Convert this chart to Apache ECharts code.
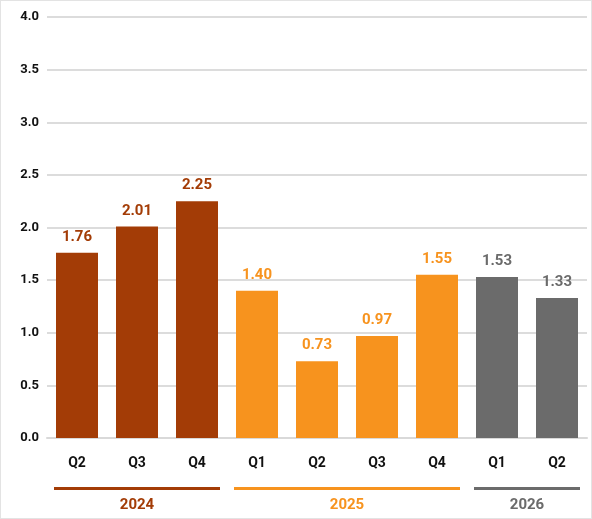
<!DOCTYPE html>
<html>
<head>
<meta charset="utf-8">
<script src="https://cdn.jsdelivr.net/npm/echarts@6/dist/echarts.min.js"></script>
<style>
  html, body { margin: 0; padding: 0; background: #fff; }
  #chart { width: 590px; height: 517px; border: 1px solid #e3e3e3; }
</style>
</head>
<body>
<div id="chart"></div>
<script>
const quarters = ['Q2', 'Q3', 'Q4', 'Q1', 'Q2', 'Q3', 'Q4', 'Q1', 'Q2'];
const values = [1.76, 2.01, 2.25, 1.40, 0.73, 0.97, 1.55, 1.53, 1.33];
const years = ['2024', '2025', '2026'];
const yearStart = [0, 3, 7];
const yearEnd = [2, 6, 8];
const yearColors = ['#a33c06', '#f7931e', '#6b6b6b'];
const yTicks = ['0.0', '0.5', '1.0', '1.5', '2.0', '2.5', '3.0', '3.5', '4.0'];

function yearOf(i) {
  for (let y = 0; y < years.length; y++) {
    if (i >= yearStart[y] && i <= yearEnd[y]) return y;
  }
  return 0;
}

const chart = echarts.init(document.getElementById('chart'));

chart.setOption({
  animation: false,
  grid: { left: 46, right: 4, top: 16, bottom: 80 },
  xAxis: {
    type: 'category',
    data: quarters,
    axisLine: { show: true, lineStyle: { color: '#d9d9d9', width: 2 } },
    axisTick: { show: false },
    axisLabel: { color: '#111', fontWeight: 'bold', fontSize: 14, margin: 18, fontFamily: 'Roboto' }
  },
  yAxis: {
    type: 'value',
    min: 0,
    max: 4,
    interval: 0.5,
    axisLabel: {
      color: '#111', fontWeight: 'bold', fontSize: 13, fontFamily: 'Roboto', margin: 8,
      formatter: v => yTicks[Math.round(v / 0.5)]
    },
    splitLine: { lineStyle: { color: '#dcdcdc', width: 2 } }
  },
  series: [{
    type: 'bar',
    barWidth: 42,
    data: values.map((v, i) => ({
      value: v,
      itemStyle: { color: yearColors[yearOf(i)] },
      label: { color: yearColors[yearOf(i)] }
    })),
    label: {
      show: true,
      position: 'top',
      distance: 8,
      fontWeight: 'bold',
      fontSize: 15,
      fontFamily: 'Roboto',
      formatter: p => p.value.toFixed(2)
    }
  }]
});

// year group underlines and labels placed from the axis scale
const graphics = [];
years.forEach((y, k) => {
  const x0 = chart.convertToPixel({ xAxisIndex: 0 }, yearStart[k]) - 23;
  const x1 = chart.convertToPixel({ xAxisIndex: 0 }, yearEnd[k]) + 23;
  graphics.push({
    type: 'rect',
    shape: { x: x0, y: 486, width: x1 - x0, height: 3 },
    style: { fill: yearColors[k] }
  });
  graphics.push({
    type: 'text',
    x: (x0 + x1) / 2,
    y: 497,
    style: {
      text: y, fill: yearColors[k], font: 'bold 15px Roboto',
      align: 'center', verticalAlign: 'top'
    }
  });
});
chart.setOption({ graphic: graphics });
</script>
</body>
</html>
